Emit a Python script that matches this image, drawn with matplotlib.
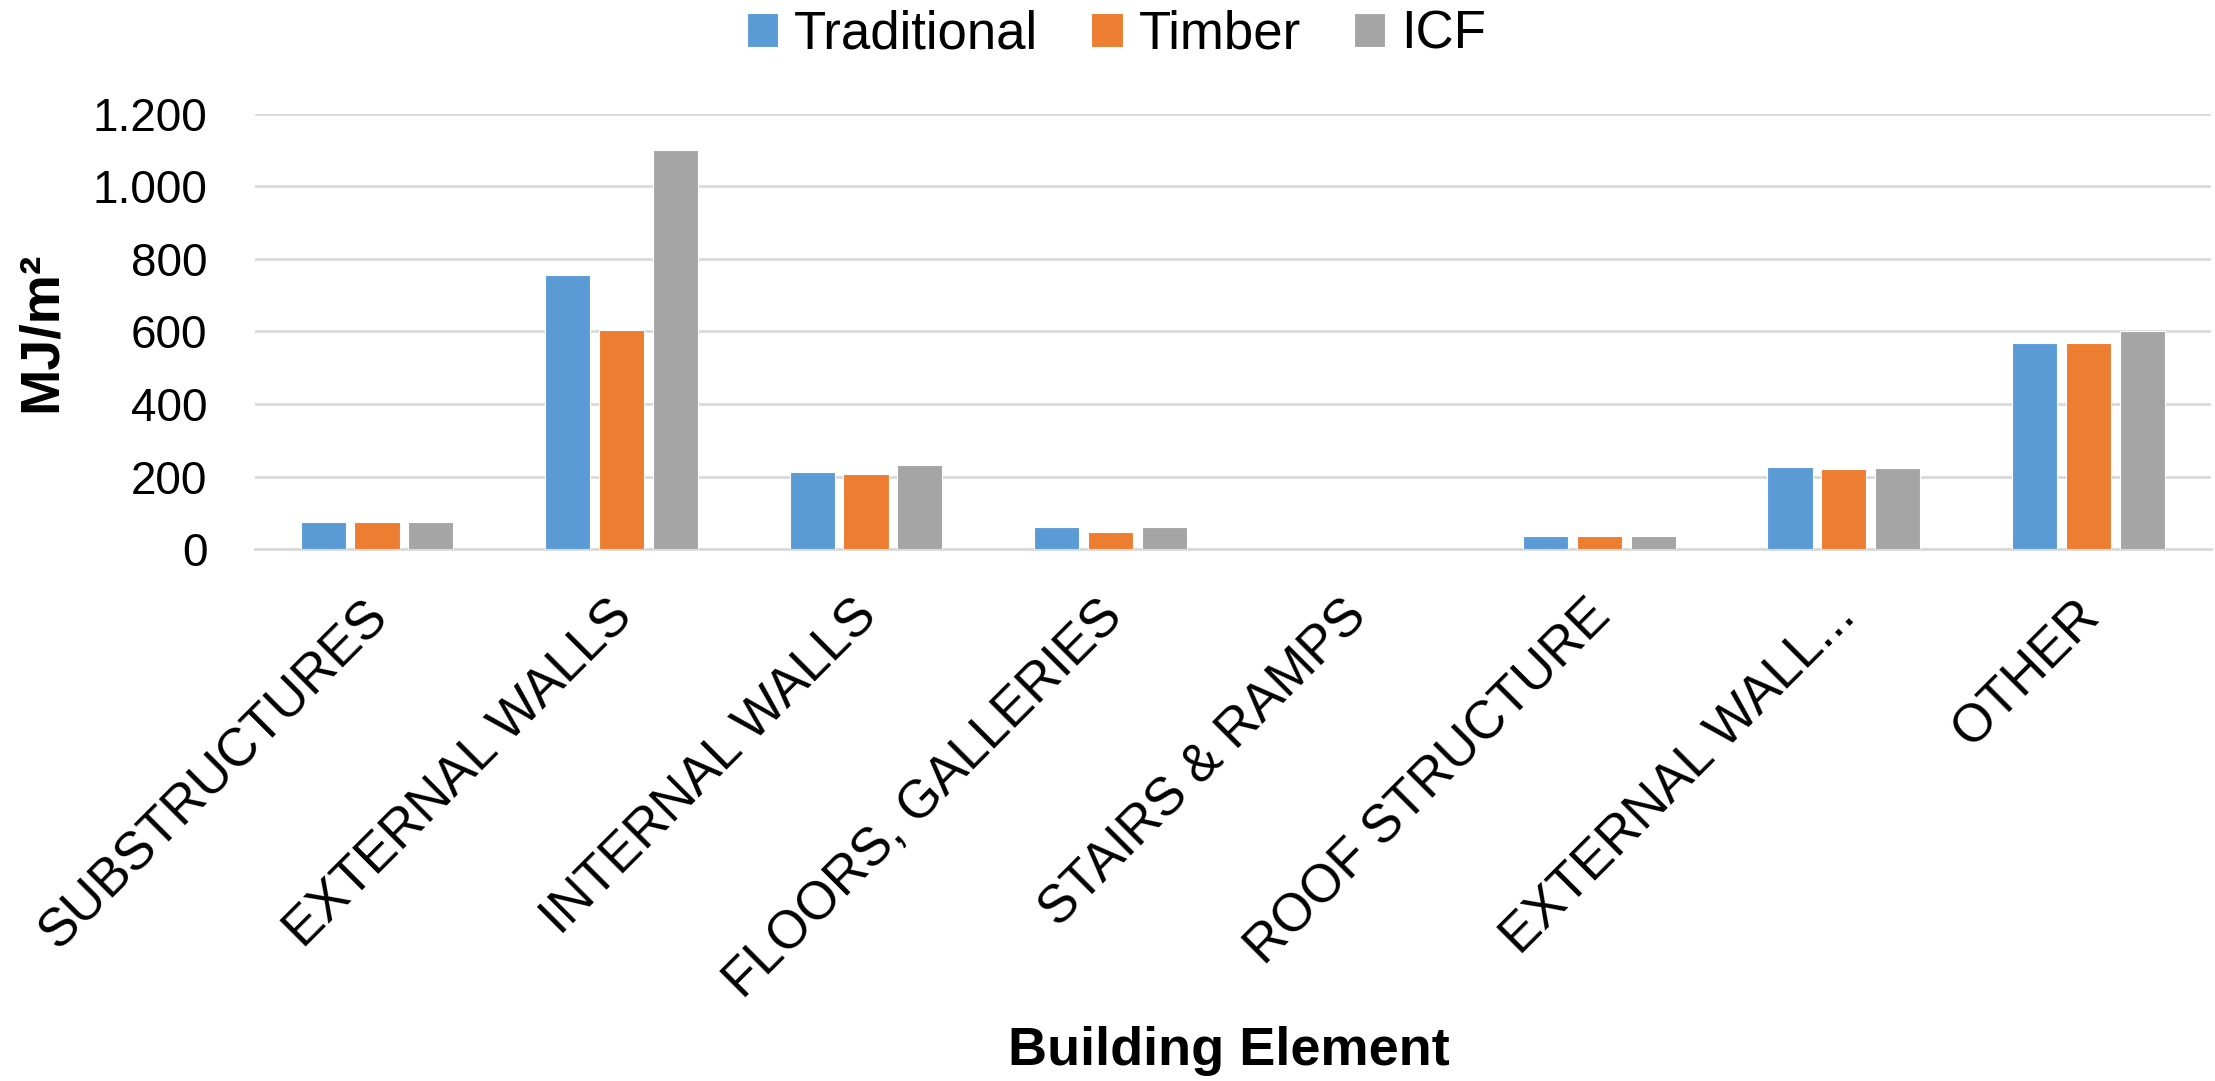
import matplotlib.pyplot as plt
import matplotlib.transforms as mtransforms
import numpy as np

plt.rcParams['font.family'] = ['Liberation Sans', 'DejaVu Sans']

#%% Dados
elementos = ['SUBSTRUCTURES', 'EXTERNAL WALLS', 'INTERNAL WALLS', 'FLOORS, GALLERIES',
             'STAIRS & RAMPS', 'ROOF STRUCTURE', 'EXTERNAL WALL...', 'OTHER']
traditional = [75, 755, 213, 62, 0, 37, 225, 569]
timber = [75, 605, 208, 48, 0, 37, 221, 569]
icf = [75, 1100, 233, 62, 0, 37, 223, 602]
series = ['Traditional', 'Timber', 'ICF']
cores = ['#5B9BD5', '#ED7D31', '#A5A5A5']
yticks = [0, 200, 400, 600, 800, 1000, 1200]
ylabels = ['0', '200', '400', '600', '800', '1.000', '1.200']

#%% Grafico
fig = plt.figure(figsize=(22.15, 10.81), dpi=100)
ax = fig.add_axes([0.115, 0.492, 0.883, 0.403])

x = np.arange(len(elementos))
w = 0.185
step = 0.22
for i, (vals, nome, cor) in enumerate(zip([traditional, timber, icf], series, cores)):
    ax.bar(x + (i - 1) * step, vals, w, color=cor, label=nome,
           edgecolor='white', linewidth=0.8, zorder=3)

ax.set_xlim(-0.5, len(elementos) - 0.5)
ax.set_ylim(0, 1200)
ax.set_yticks(yticks)
ax.set_yticklabels(ylabels, fontsize=33)
ax.grid(axis='y', color='#D9D9D9', linewidth=2, zorder=0)
for s in ['top', 'right', 'left']:
    ax.spines[s].set_visible(False)
ax.spines['bottom'].set_color('#D9D9D9')
ax.spines['bottom'].set_linewidth(2)
ax.tick_params(axis='both', length=0)
ax.tick_params(axis='y', pad=34)
ax.tick_params(axis='x', pad=30)
ax.set_xticks(x)
ax.set_xticklabels(elementos, rotation=45, ha='right', rotation_mode='anchor', fontsize=38)
# desloca um pouco os rotulos para a esquerda
desloc = mtransforms.ScaledTranslation(-0.14, 0, fig.dpi_scale_trans)
for lbl in ax.get_xticklabels():
    lbl.set_transform(lbl.get_transform() + desloc)

ax.set_ylabel('MJ/m²', fontsize=40, fontweight='bold', labelpad=18)
fig.text(0.555, 0.015, 'Building Element', fontsize=39, fontweight='bold', ha='center')

fig.legend(loc='center', bbox_to_anchor=(0.504, 0.968), ncol=3, frameon=False,
           fontsize=38, handlelength=0.6, handleheight=0.6, handletextpad=0.3,
           columnspacing=1.0)

plt.savefig('out.png', dpi=100)
